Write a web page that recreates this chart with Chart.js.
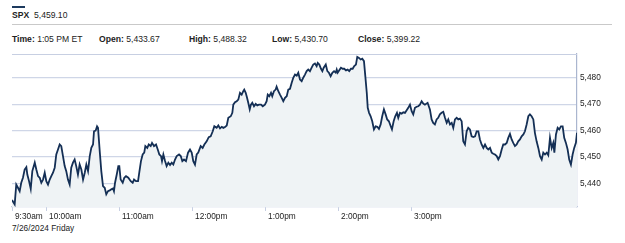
<!DOCTYPE html>
<html><head><meta charset="utf-8">
<script src="https://cdn.jsdelivr.net/npm/chart.js@4/dist/chart.umd.min.js"></script>
<style>
html,body{margin:0;padding:0;background:#fff;width:625px;height:243px;overflow:hidden;font-family:"Liberation Sans",Arial,sans-serif;color:#222}
#wrap{position:relative;width:625px;height:243px}
canvas{position:absolute;left:0;top:0}
.t{position:absolute;font-size:8.6px;white-space:nowrap;line-height:1}
b{font-weight:bold}
#bar{position:absolute;left:12px;top:6px;width:13px;height:2px;background:#1d3a5e}
#sep{position:absolute;left:12px;top:24px;width:600px;height:1px;background:#c9c9c9}
</style></head>
<body><div id="wrap">
<div id="bar"></div>
<div class="t" style="left:12px;top:11px"><b>SPX</b>&nbsp; 5,459.10</div>
<div id="sep"></div>
<div class="t" style="left:12px;top:35px"><b>Time:</b> 1:05 PM ET</div>
<div class="t" style="left:99px;top:35px"><b>Open:</b> 5,433.67</div>
<div class="t" style="left:189px;top:35px"><b>High:</b> 5,488.32</div>
<div class="t" style="left:272px;top:35px"><b>Low:</b> 5,430.70</div>
<div class="t" style="left:358px;top:35px"><b>Close:</b> 5,399.22</div>
<div class="t" style="left:12px;top:224px;font-size:8.3px">7/26/2024 Friday</div>
<canvas id="c" width="625" height="243"></canvas>
</div>
<script>
// minutes after 9:30 (as drawn on the chart's time axis)
const times = [0,2.2,3.5,4.9,6.3,7.6,9.0,10.4,11.8,12.6,14.0,15.4,16.7,18.7,20.0,21.4,22.8,24.1,25.5,26.9,28.2,29.6,31.0,32.3,33.7,35.1,36.4,37.8,39.2,40.5,41.9,43.3,44.6,46.0,47.4,48.7,50.1,51.5,52.8,54.2,55.6,57.0,58.4,59.8,61.1,62.5,63.9,65.2,66.6,67.4,68.8,69.9,70.7,72.1,73.4,74.8,76.2,77.5,78.9,80.3,81.6,83.0,83.8,
84.7,86.1,87.4,88.2,89.3,91.0,92.3,93.7,95.6,97.6,99.2,100.3,101.9,103.6,104.6,106.0,107.4,108.7,109.6,111.2,112.4,114.0,115.1,116.7,118.4,119.8,121.1,122.5,123.3,124.4,125.8,127.1,128.5,129.9,131.3,132.6,134.0,135.4,137.3,138.7,140.0,141.4,143.0,144.7,146.3,147.7,149.0,150.4,151.8,153.1,155.1,156.7,158.1,160.0,161.7,163.3,165.0,166.3,
168.2,169.6,171.0,172.4,173.7,175.1,176.5,177.8,179.8,181.1,181.9,183.3,184.7,186.0,187.4,188.8,190.1,190.9,192.1,193.2,194.2,195.4,196.4,197.5,198.9,200.3,201.6,203.0,204.7,206.1,207.9,209.3,210.2,211.5,212.9,213.9,215.3,216.7,217.5,218.9,220.3,221.7,223.0,224.4,225.8,227.1,228.5,229.9,231.2,232.6,234.0,235.3,236.7,238.1,239.4,240.8,242.2,243.5,244.9,246.3,247.6,249.0,250.4,251.3,252.6,254.0,255.1,256.2,257.9,259.2,260.5,261.9,263.3,264.7,266.1,266.9,267.7,269.0,270.4,271.8,273.1,274.5,275.9,277.2,278.6,280.0,281.3,282.7,283.8,285.2,286.6,287.9,289.3,290.4,291.6,292.4,293.5,294.8,296.1,297.5,298.9,300.2,301.6,303.0,304.3,305.7,307.1,308.4,309.8,311.3,312.3,313.7,315.0,316.4,317.5,318.9,320.3,321.6,323.0,324.4,325.7,327.1,328.5,329.8,331.2,332.6,333.9,335.3,336.7,338.0,339.4,341.6,343.5,344.9,346.2,347.6,349.0,350.3,351.7,353.1,354.5,355.9,357.3,358.6,360.0,361.4,362.7,364.1,365.5,366.8,368.2,369.6,370.9,372.3,373.7,375.0,376.4,377.8,379.2,380.6,381.9,383.3,384.6,386.0,387.4,388.8,390.2,391.5,392.9,394.3,395.6,397.0,398.4,399.7,401.1,402.5,403.8,405.2,406.6,407.9,409.3,410.7,412.0,413.4,414.8,416.1,417.5,418.9,420.3,421.6,423.0,424.4,425.7,427.1,428.5,429.8,431.2,432.6,434.0,435.4,436.7,438.1,439.5,440.8,442.2,443.6,444.9,445.8,447.1,448.5,449.8,451.2,452.6,453.9,455.3,456.7,458.0,459.4,460.8,462.1,463.5,464.4];
const prices = [5433.67,5432.0,5439.5,5438.3,5437.0,5440.2,5442.1,5445.2,5446.1,5443.3,5440.8,5437.9,5444.6,5447.8,5445.2,5442.7,5442.1,5440.2,5441.4,5444.0,5440.8,5439.5,5441.4,5442.7,5444.0,5445.9,5450.9,5452.8,5454.7,5454.1,5450.3,5446.5,5444.6,5441.4,5439.5,5445.9,5447.8,5449.0,5446.5,5443.3,5447.1,5445.2,5441.4,5444.0,5447.1,5444.6,5450.3,5453.4,5454.7,5459.7,5460.0,5461.6,5461.0,5452.2,5444.6,5438.9,5438.3,5435.8,5437.0,5437.3,5437.7,5438.0,5437.0,
5440.2,5443.3,5446.5,5446.5,5441.4,5440.2,5442.1,5442.7,5442.1,5440.8,5440.2,5441.4,5440.8,5440.8,5444.0,5448.4,5450.9,5451.6,5454.1,5453.4,5454.7,5454.1,5455.3,5454.1,5454.7,5452.8,5450.9,5450.3,5448.4,5450.9,5448.4,5446.5,5447.8,5446.9,5447.8,5447.1,5449.0,5450.3,5450.9,5450.3,5448.4,5449.0,5448.4,5451.6,5452.8,5451.6,5448.4,5447.1,5450.9,5451.6,5454.1,5453.4,5454.7,5455.9,5457.5,5457.8,5459.7,5461.6,
5461.0,5461.9,5460.8,5461.4,5461.0,5461.3,5461.9,5464.8,5465.4,5466.7,5469.8,5470.7,5471.1,5471.7,5474.3,5473.6,5474.9,5475.5,5474.3,5472.4,5470.5,5468.0,5469.8,5470.5,5469.2,5470.1,5469.5,5469.8,5469.8,5469.2,5469.8,5471.1,5473.6,5473.0,5474.3,5473.0,5474.9,5475.5,5476.6,5474.9,5473.6,5472.4,5471.1,5472.4,5473.0,5475.5,5475.8,5478.1,5480.0,5481.2,5480.8,5481.9,5479.3,5478.7,5480.0,5481.2,5482.5,5483.1,5482.5,5483.8,5485.0,5485.4,5484.4,5485.6,5485.0,5483.4,5482.5,5483.8,5485.0,5482.5,5481.9,5480.6,5481.9,5482.5,5481.9,5483.1,5481.9,5482.8,5483.8,5483.4,5483.4,5482.8,5483.1,5482.5,5483.4,5483.4,5484.4,5485.0,5487.9,5487.5,5486.9,5487.2,5486.3,5480.6,5474.3,5468.6,5466.7,5465.4,5463.5,5460.4,5461.6,5461.4,5460.6,5462.3,5465.4,5468.0,5466.1,5464.2,5463.5,5461.6,5460.4,5463.5,5465.4,5466.7,5464.8,5466.7,5466.4,5466.9,5466.7,5467.7,5468.6,5469.8,5467.3,5466.1,5468.6,5469.0,5469.2,5469.8,5471.1,5470.2,5469.8,5470.5,5468.0,5464.2,5462.9,5462.3,5464.2,5464.8,5466.1,5466.7,5467.1,5464.8,5462.9,5464.2,5462.3,5462.9,5461.0,5464.2,5464.8,5464.2,5464.5,5463.5,5455.9,5454.7,5459.7,5461.0,5460.4,5457.8,5457.5,5457.8,5459.7,5459.7,5456.6,5454.7,5453.4,5454.7,5453.4,5452.8,5453.4,5451.6,5451.2,5450.9,5450.3,5449.0,5450.3,5452.8,5454.7,5454.7,5455.3,5457.2,5458.7,5456.6,5455.3,5454.1,5454.7,5455.9,5456.6,5457.8,5458.5,5459.7,5462.3,5465.4,5466.1,5465.4,5464.2,5459.1,5455.9,5453.4,5450.3,5449.0,5451.6,5450.9,5451.6,5450.6,5457.2,5453.4,5455.3,5451.6,5458.5,5461.0,5460.4,5461.6,5461.6,5457.2,5455.3,5452.8,5449.0,5447.1,5450.9,5453.4,5455.3,5459.10];
const timeTicks = [0,28,88,148,208,268,328];
const timeLabels = ["9:30am","10:00am","11:00am","12:00pm","1:00pm","2:00pm","3:00pm"];
const priceTicks = [5440,5450,5460,5470,5480];
const axisMin = 5431, axisMax = 5489, timeMax = 464.4;

const frame = {
  id:'frame',
  beforeDatasetsDraw(chart){
    const {ctx, chartArea:a} = chart;
    ctx.save();
    ctx.strokeStyle='#c7cfe2'; ctx.lineWidth=1.2;
    ctx.beginPath(); ctx.moveTo(a.left, a.top+0.5); ctx.lineTo(a.right, a.top+0.5); ctx.stroke();
    ctx.restore();
  }
};

new Chart(document.getElementById('c'), {
  type:'line',
  data:{datasets:[{
    data: times.map((t,i)=>({x:t,y:prices[i]})),
    borderColor:'#142f55', borderWidth:1.8, pointRadius:0, tension:0,
    fill:'start', backgroundColor:'#eff3f5'
  }]},
  options:{
    responsive:false, animation:false, events:[],
    layout:{padding:{left:12,top:54,right:0,bottom:0}},
    plugins:{legend:{display:false},tooltip:{enabled:false}},
    scales:{
      x:{type:'linear',min:0,max:timeMax,
        afterBuildTicks(s){s.ticks=timeTicks.map(v=>({value:v}));},
        afterFit(s){s.height=36;},
        grid:{drawOnChartArea:false,drawTicks:true,tickLength:4,color:'#c7cfe2'},
        border:{display:true,color:'#c7cfe2',width:1.2},
        ticks:{autoSkip:false,maxRotation:0,align:'start',labelOffset:3,padding:1,color:'#222',
          font:{family:'"Liberation Sans", Arial',size:8.3},
          callback(v){const i=timeTicks.indexOf(v);return i>=0?timeLabels[i]:'';}}
      },
      y:{position:'right',min:axisMin,max:axisMax,
        afterBuildTicks(s){s.ticks=priceTicks.map(v=>({value:v}));},
        afterFit(s){s.width=48;},
        grid:{color:'#cfd6e7',lineWidth:1.2,drawTicks:false},
        border:{display:true,color:'#aab6cf',width:1.2},
        ticks:{padding:3,color:'#222',font:{family:'"Liberation Sans", Arial',size:8.3},
          callback(v){return v.toLocaleString('en-US');}}
      }
    }
  },
  plugins:[frame]
});
</script>
</body></html>
